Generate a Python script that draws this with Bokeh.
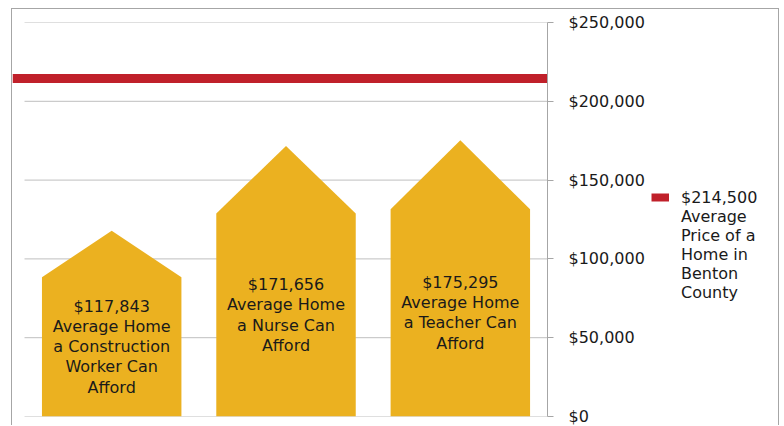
from bokeh.plotting import figure
from bokeh.layouts import row
from bokeh.models import (Range1d, LinearAxis, FixedTicker, NumeralTickFormatter,
                          Legend, LegendItem)
from bokeh.core.properties import value
from bokeh.embed import file_html
from bokeh.resources import INLINE

# ---- data ----
categories = ["Construction Worker", "Nurse", "Teacher"]
values = [117843, 171656, 175295]
bar_labels = [
    "$117,843\nAverage Home\na Construction\nWorker Can\nAfford",
    "$171,656\nAverage Home\na Nurse Can\nAfford",
    "$175,295\nAverage Home\na Teacher Can\nAfford",
]
avg_price = 214500
avg_value_label = "$214,500"
avg_desc_label = "Average\nPrice of a\nHome in\nBenton\nCounty"
y_ticks = [0, 50000, 100000, 150000, 200000, 250000]

# ---- style ----
FONT = "DejaVu Sans"
GOLD = "#EBB120"
RED = "#C0202A"
GRID = "#BFBFBF"
AXIS = "#A6A6A6"
TEXT = "#1a1a1a"
HALF_W = 0.4
SHOULDER = 0.75
LINE_H = 1.06
LEGEND_LINE_H = 1.09

n = len(categories)
p = figure(frame_width=535, frame_height=394, output_backend="svg",
           toolbar_location=None,
           x_range=Range1d(-0.069, n), y_range=Range1d(y_ticks[0], y_ticks[-1]),
           x_axis_location=None, y_axis_location=None,
           min_border_left=0, min_border_top=13, min_border_bottom=9,
           min_border_right=0)
p.outline_line_color = None
for g in p.grid:
    g.visible = False

# gridlines spanning the category area only
p.segment(x0=[0] * len(y_ticks), x1=[n] * len(y_ticks), y0=y_ticks, y1=y_ticks,
          line_color=GRID, line_width=1)

# house-shaped bars
centers = [i + 0.5 for i in range(n)]
xs = [[c - HALF_W, c - HALF_W, c, c + HALF_W, c + HALF_W] for c in centers]
ys = [[0, SHOULDER * v, v, SHOULDER * v, 0] for v in values]
p.patches(xs=xs, ys=ys, fill_color=GOLD, line_color=None)

p.text(x=centers, y=[SHOULDER * v / 2 for v in values], text=bar_labels,
       text_align="center", text_baseline="middle", text_font=value(FONT),
       text_font_size="16px", text_color=TEXT, text_line_height=LINE_H)

# average price line
p.line(x=[p.x_range.start, p.x_range.end], y=[avg_price, avg_price],
       line_color=RED, line_width=9)

# right axis
yaxis = LinearAxis(ticker=FixedTicker(ticks=y_ticks),
                   formatter=NumeralTickFormatter(format="$0,0"),
                   axis_line_color=AXIS, major_tick_line_color=AXIS,
                   major_tick_out=6, major_tick_in=0, minor_tick_line_color=None,
                   major_label_standoff=15, major_label_text_font=FONT,
                   major_label_text_font_size="16px", major_label_text_color=TEXT)
p.add_layout(yaxis, "right")

# legend area (separate panel to the right of the axis)
lg = figure(width=131, height=416, output_backend="svg", toolbar_location=None,
            x_range=Range1d(0, 1), y_range=p.y_range,
            x_axis_location=None, y_axis_location=None, min_border=0)
lg.outline_line_color = None
for g in lg.grid:
    g.visible = False
key_r = lg.line(x=[0, 1], y=[avg_price, avg_price], line_color=RED, line_width=8,
                visible=False)

legend = Legend(items=[LegendItem(label=avg_value_label, renderers=[key_r]),
                       LegendItem(label=avg_desc_label, renderers=[])],
                location=(4, 114), border_line_color=None,
                background_fill_alpha=0, padding=0, margin=0, spacing=0,
                glyph_width=18, glyph_height=20, label_standoff=12,
                label_text_font=FONT, label_text_font_size="16px",
                label_text_color=TEXT, label_text_line_height=LEGEND_LINE_H,
                label_height=20)
lg.add_layout(legend, "center")

layout = row(p, lg, spacing=0,
             styles={"border": "1px solid #A6A6A6", "border-bottom": "none",
                     "margin-left": "11px", "margin-top": "8px"})

open("out.html", "w").write(file_html(layout, INLINE))
